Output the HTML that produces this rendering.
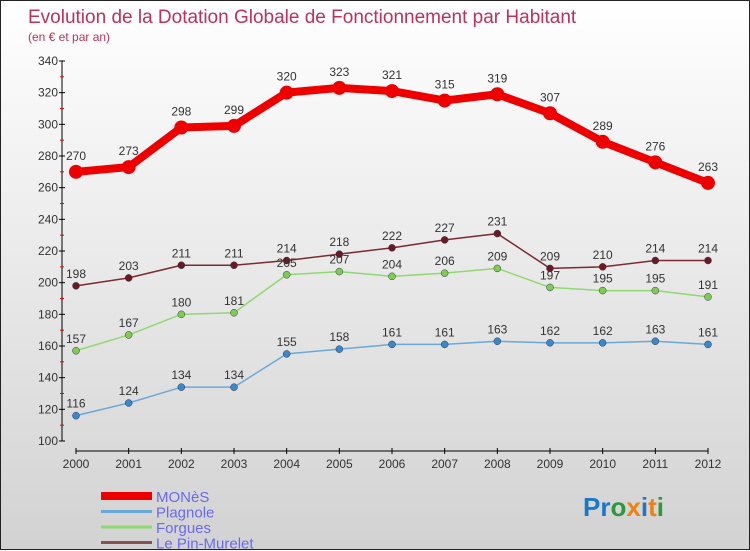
<!DOCTYPE html>
<html><head><meta charset="utf-8"><style>
html,body{margin:0;padding:0}
body{width:750px;height:550px;overflow:hidden;font-family:"Liberation Sans",sans-serif}
#wrap{position:relative;width:748px;height:548px;border:1px solid #222;background:linear-gradient(#ffffff,#d2d2d2)}
svg{position:absolute;left:0;top:0}
</style></head><body>
<div id="wrap">
<svg id="chart" width="750" height="550">
<text x="27" y="22" font-size="19" fill="#c0305a">Evolution de la Dotation Globale de Fonctionnement par Habitant</text>
<text x="27" y="40" font-size="12" fill="#c0305a">(en € et par an)</text>
<g id="axes"></g><g id="series"></g><g id="legend"></g>
<text x="582" y="515" font-size="26" font-weight="bold"><tspan fill="#1a78c8">Pr</tspan><tspan fill="#2a9a3a">o</tspan><tspan fill="#f08010">x</tspan><tspan fill="#1a78c8">i</tspan><tspan fill="#f08010">t</tspan><tspan fill="#2a9a3a">i</tspan></text>
</svg></div>
<script>
const years=[2000,2001,2002,2003,2004,2005,2006,2007,2008,2009,2010,2011,2012];
const yTicks=[100,120,140,160,180,200,220,240,260,280,300,320,340];
const mones=[270,273,298,299,320,323,321,315,319,307,289,276,263];
const plagnole=[116,124,134,134,155,158,161,161,163,162,162,163,161];
const forgues=[157,167,180,181,205,207,204,206,209,197,195,195,191];
const pin=[198,203,211,211,214,218,222,227,231,209,210,214,214];
const names=["MONèS","Plagnole","Forgues","Le Pin-Murelet"];
const NS="http://www.w3.org/2000/svg";
const xs=i=>75+i*(632/12);
const ys=v=>440-(v-100)*380/240;
function mk(tag,attrs,parent){const e=document.createElementNS(NS,tag);for(const k in attrs)e.setAttribute(k,attrs[k]);parent.appendChild(e);return e;}
const ax=document.getElementById('axes');
let l=mk('line',{x1:61,y1:60,x2:61,y2:440,stroke:'#000'},ax);


l=mk('line',{x1:75,y1:450,x2:707,y2:450,stroke:'#000'},ax);


yTicks.forEach((v,i)=>{
  mk('line',{x1:58,y1:ys(v),x2:64,y2:ys(v),stroke:'#000'},ax);
  if(i<yTicks.length-1){mk('line',{x1:59,y1:ys(v+10),x2:63,y2:ys(v+10),stroke:'#e00'},ax);}
  const t=mk('text',{x:57,y:ys(v)+4,'font-size':12,'text-anchor':'end',fill:'#333'},ax);
  t.textContent=v;
  
  
});
years.forEach((y,i)=>{
  mk('line',{x1:xs(i),y1:447,x2:xs(i),y2:453,stroke:'#000'},ax);
  const t=mk('text',{x:xs(i),y:467,'font-size':12,'text-anchor':'middle',fill:'#333'},ax);
  t.textContent=y;
  
  
});
const sg=document.getElementById('series');
const series=[
 {d:pin,c:'#7a2a30',w:1.5,r:3.5,fc:'#6a1a20',n:'pin-murelet'},
 {d:forgues,c:'#90d870',w:1.5,r:3.5,fc:'#80cc50',n:'forgues'},
 {d:plagnole,c:'#6aa8d8',w:1.5,r:3.5,fc:'#3a88c8',n:'plagnole'},
 {d:mones,c:'#ee0000',w:8,r:7,fc:'#ee0000',n:'mones'}];
series.forEach(s=>{
  const g=mk('g',{},sg);
  
  
  const p=mk('polyline',{points:s.d.map((v,i)=>xs(i)+','+ys(v)).join(' '),fill:'none',stroke:s.c,'stroke-width':s.w,'stroke-linejoin':'round'},g);
  
  
  s.d.forEach((v,i)=>{
    const c=mk('circle',{cx:xs(i),cy:ys(v),r:s.r,fill:s.fc,stroke:s.w>2?'none':'#335','stroke-width':0.5},g);
    
    
    const t=mk('text',{x:xs(i),y:ys(v)-(s.w>2?12:8),'font-size':12,'text-anchor':'middle',fill:'#333'},g);
    t.textContent=v;
    
    
  });
});
const lg=document.getElementById('legend');
const lc=['#ee0000','#6aa8d8','#90d870','#8a5050'],lw=[8,3,3,3];
names.forEach((n,i)=>{
  const y=492+i*15.5;
  const g=mk('g',{},lg);
  
  
  mk('line',{x1:100,y1:y+3,x2:151,y2:y+3,stroke:lc[i],'stroke-width':lw[i]},g);
  const t=mk('text',{x:155,y:y+9,'font-size':15,fill:'#6a6af0'},g);
  t.textContent=n;
});
</script>
</body></html>
